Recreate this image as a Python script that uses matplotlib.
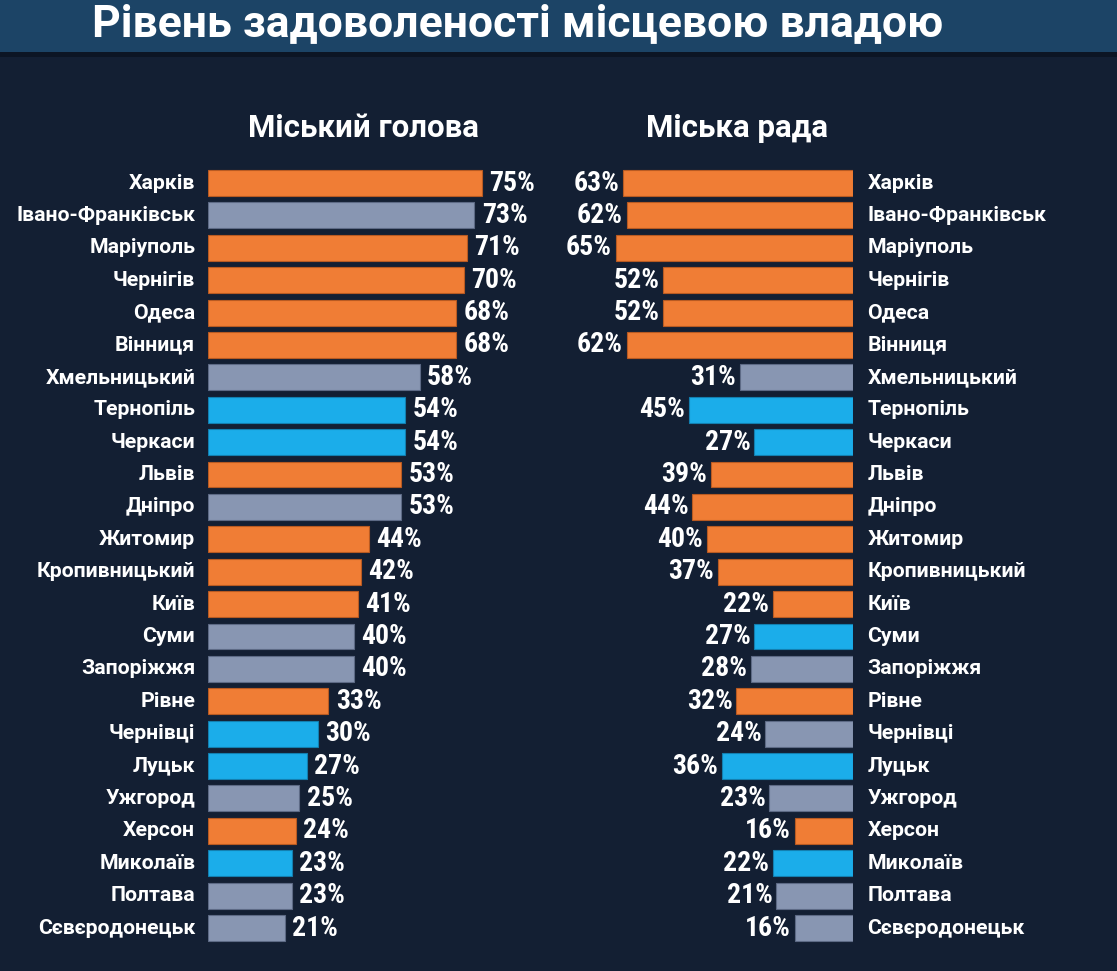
import matplotlib
matplotlib.use("Agg")
import matplotlib.pyplot as plt
from matplotlib.patches import Rectangle

# data
cities = ["Харків", "Івано-Франківськ", "Маріуполь", "Чернігів", "Одеса", "Вінниця",
          "Хмельницький", "Тернопіль", "Черкаси", "Львів", "Дніпро", "Житомир",
          "Кропивницький", "Київ", "Суми", "Запоріжжя", "Рівне", "Чернівці",
          "Луцьк", "Ужгород", "Херсон", "Миколаїв", "Полтава", "Сєвєродонецьк"]
mayor = [75, 73, 71, 70, 68, 68, 58, 54, 54, 53, 53, 44, 42, 41, 40, 40, 33, 30, 27, 25, 24, 23, 23, 21]
council = [63, 62, 65, 52, 52, 62, 31, 45, 27, 39, 44, 40, 37, 22, 27, 28, 32, 24, 36, 23, 16, 22, 21, 16]
# o = orange, g = grey, b = blue
mayor_grp = ["o", "g", "o", "o", "o", "o", "g", "b", "b", "o", "g", "o",
             "o", "o", "g", "g", "o", "b", "b", "g", "o", "b", "g", "g"]
council_grp = ["o", "o", "o", "o", "o", "o", "g", "b", "b", "o", "o", "o",
               "o", "o", "b", "g", "o", "g", "b", "g", "o", "b", "g", "g"]

colors = {"o": "#f07d35", "g": "#8896b2", "b": "#1badea"}
edges = {"o": "#b85a22", "g": "#5d6a85", "b": "#137fb0"}

BG = "#131f33"
BANNER = "#1c4466"
W, H = 1117, 971

label_font = ["Roboto", "Liberation Sans", "DejaVu Sans"]
value_font = ["Roboto Condensed", "DejaVu Sans"]

fig = plt.figure(figsize=(W / 100, H / 100), dpi=100)
fig.patch.set_facecolor(BG)

# banner
fig.patches.append(Rectangle((0, 1 - 52 / H), 1, 52 / H, transform=fig.transFigure,
                             facecolor=BANNER, edgecolor="none", zorder=0))
fig.patches.append(Rectangle((0, 1 - 57 / H), 1, 5 / H, transform=fig.transFigure,
                             facecolor="#0c1524", edgecolor="none", zorder=0))
fig.text(92 / W, 1 - 24 / H, "Рівень задоволеності місцевою владою", color="white",
         fontsize=32, fontweight="bold", family=label_font, ha="left", va="center")

fig.text(363 / W, 1 - 128 / H, "Міський голова", color="white", fontsize=22.5,
         fontweight="bold", family=label_font, ha="center", va="center")
fig.text(737 / W, 1 - 128 / H, "Міська рада", color="white", fontsize=22.5,
         fontweight="bold", family=label_font, ha="center", va="center")

pxp = 3.65  # pixels per percent
row0, rowN = 183, 928
step = (rowN - row0) / (len(cities) - 1)
top = row0 - step / 2
bot = rowN + step / 2
ax_b = 1 - bot / H
ax_h = (bot - top) / H

n = len(cities)
ys = list(range(n))

axl = fig.add_axes([208 / W, ax_b, 100 * pxp / W, ax_h])
axr = fig.add_axes([(853 - 100 * pxp) / W, ax_b, 100 * pxp / W, ax_h])

for ax in (axl, axr):
    ax.set_facecolor("none")
    ax.set_ylim(n - 0.5, -0.5)
    ax.axis("off")

axl.set_xlim(0, 100)
axr.set_xlim(100, 0)

axl.barh(ys, mayor, height=0.8, color=[colors[g] for g in mayor_grp],
         edgecolor=[edges[g] for g in mayor_grp], linewidth=0.8)
axr.barh(ys, council, height=0.8, color=[colors[g] for g in council_grp],
         edgecolor=[edges[g] for g in council_grp], linewidth=0.8)

for i, (c, v1, v2) in enumerate(zip(cities, mayor, council)):
    axl.text(-3.5, i, c, color="white", fontsize=15.3, fontweight="bold",
             family=label_font, ha="right", va="center", clip_on=False)
    axl.text(v1 + 2.0, i, f"{v1}%", color="white", fontsize=20, fontweight="bold",
             fontstretch="condensed", family=value_font, ha="left", va="center",
             clip_on=False)
    axr.text(-4.0, i, c, color="white", fontsize=15.3, fontweight="bold",
             family=label_font, ha="left", va="center", clip_on=False)
    axr.text(v2 + 1.0, i, f"{v2}%", color="white", fontsize=20, fontweight="bold",
             fontstretch="condensed", family=value_font, ha="right", va="center",
             clip_on=False)

fig.savefig("out.png", dpi=100, facecolor=BG)
